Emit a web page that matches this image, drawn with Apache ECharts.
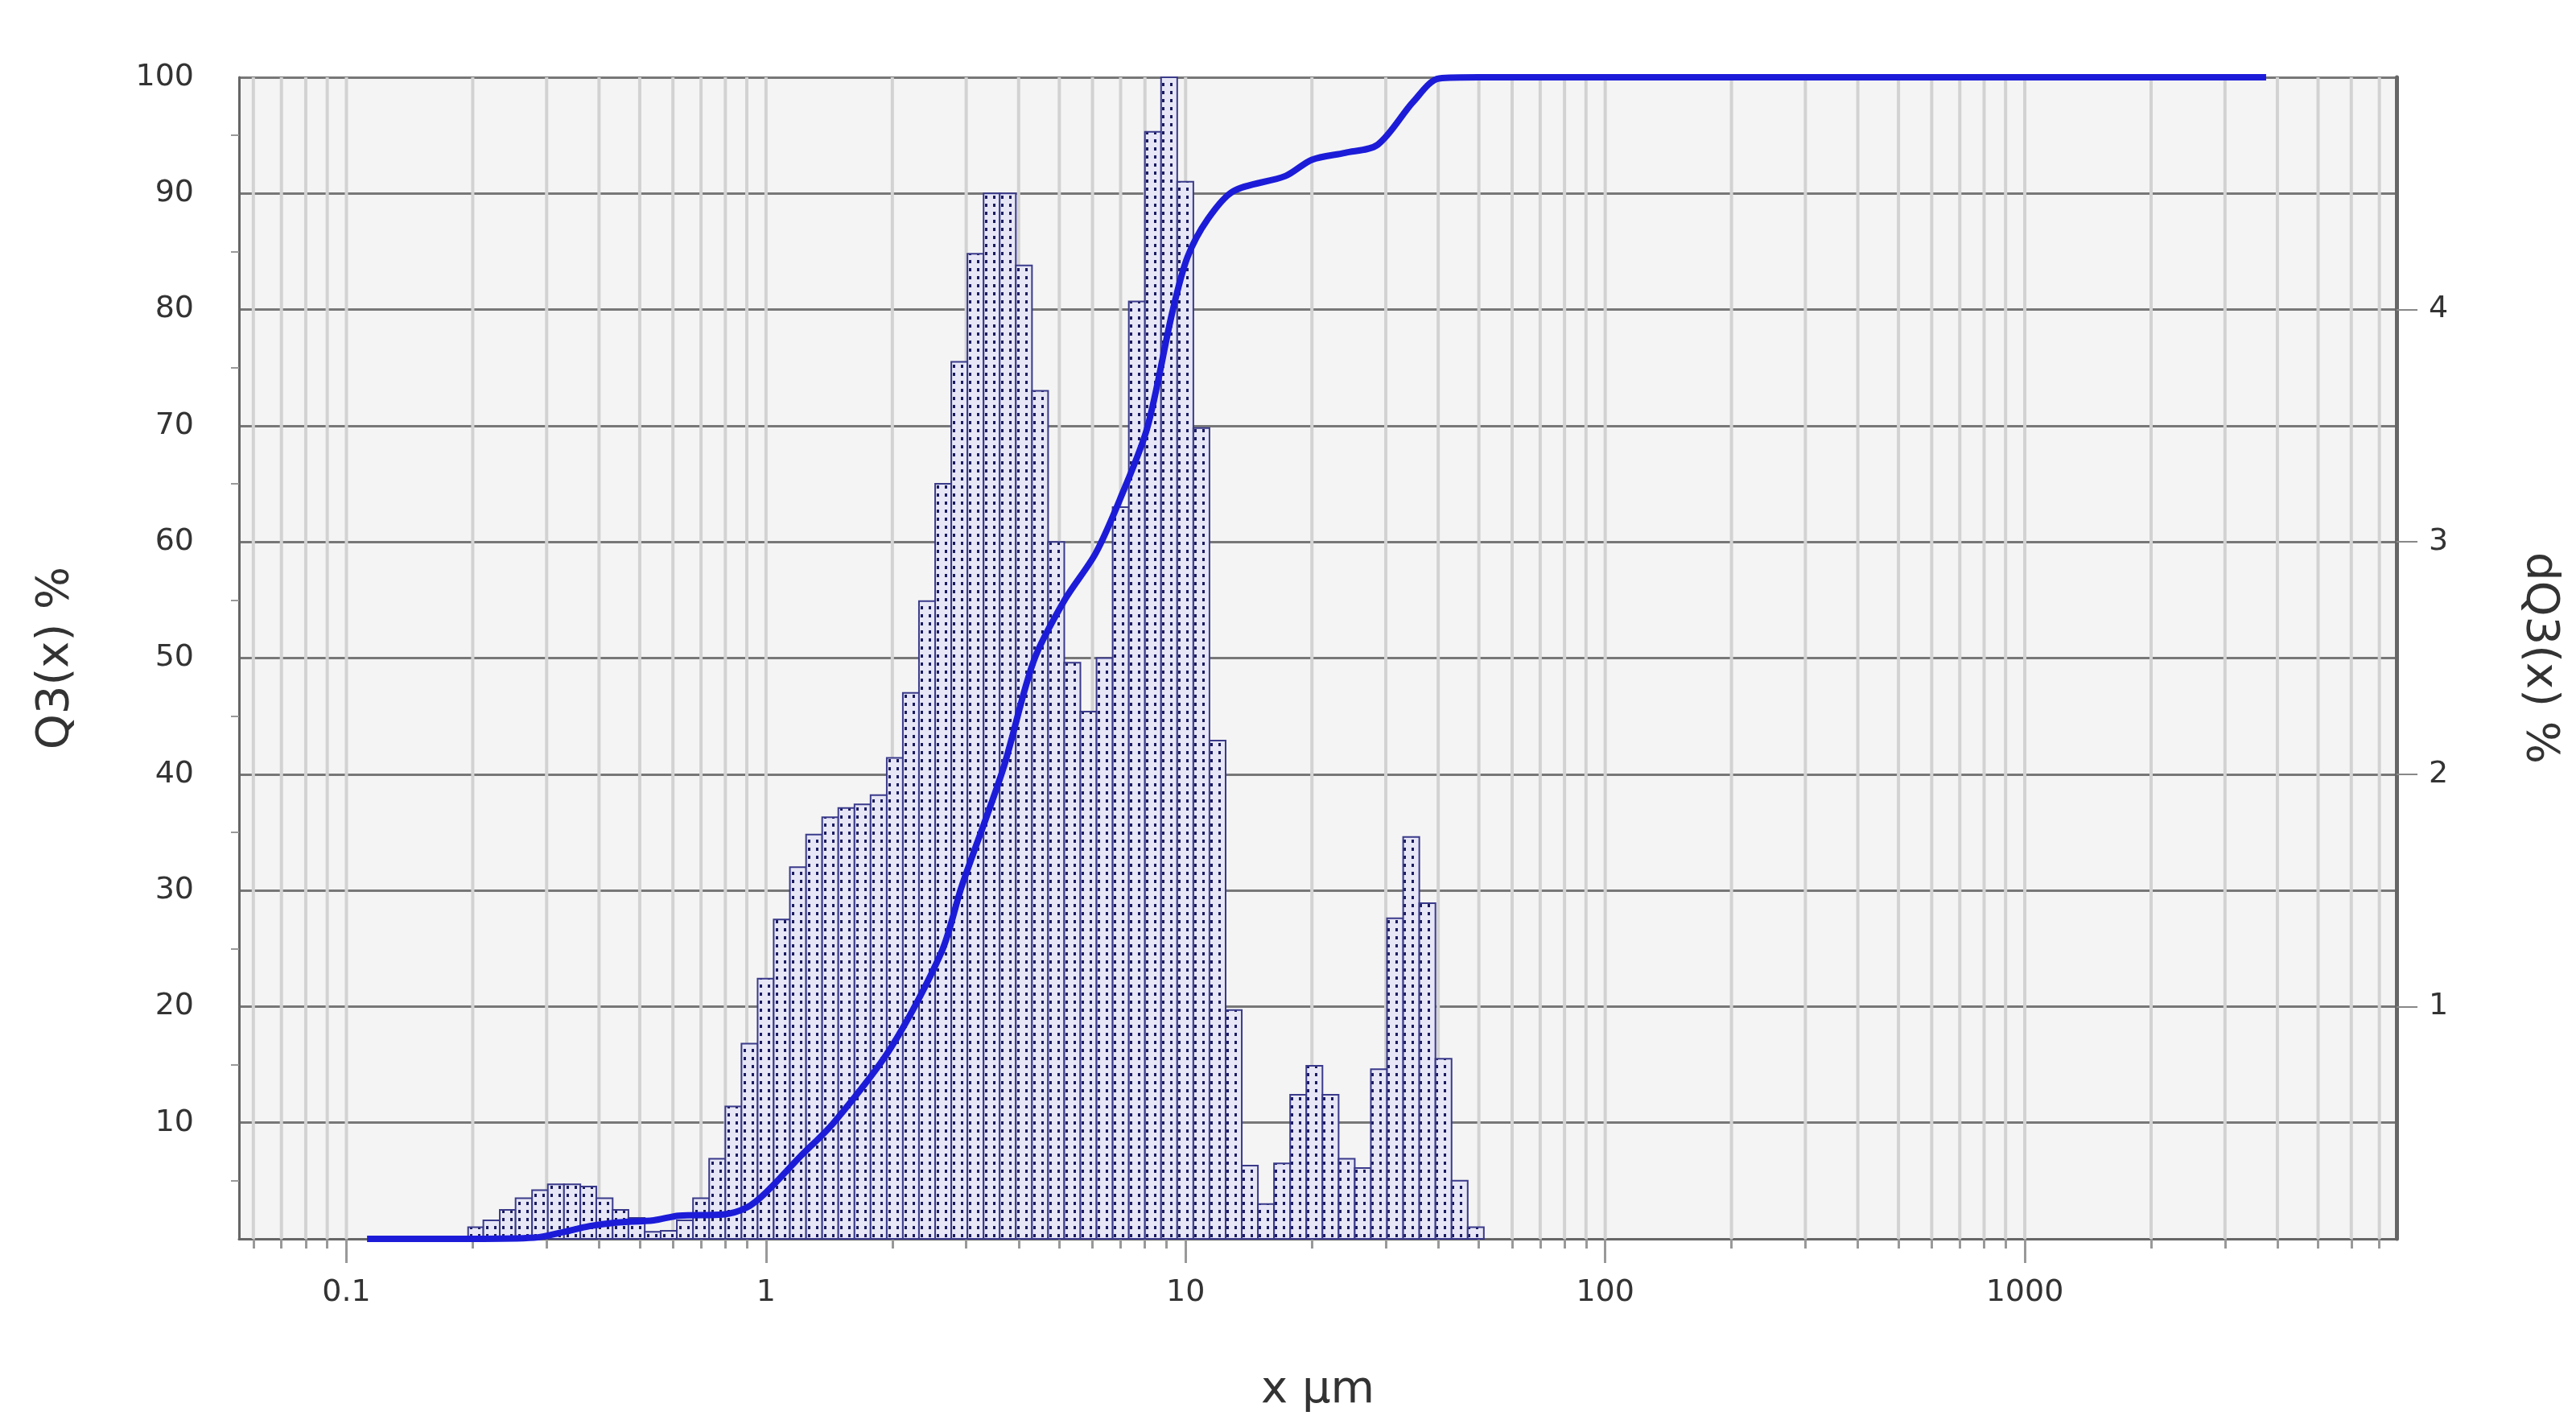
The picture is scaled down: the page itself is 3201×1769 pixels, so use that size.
<!DOCTYPE html>
<html><head><meta charset="utf-8">
<script src="https://cdn.jsdelivr.net/npm/echarts@6/dist/echarts.min.js"></script>
<style>html,body{margin:0;padding:0;background:#fff}#c{width:3201px;height:1769px}</style>
</head><body><div id="c"></div>
<script>
// histogram bin edges (µm) and density dQ3(x) % per bin
const binEdges = [0.195,0.212,0.232,0.253,0.277,0.302,0.330,0.361,0.394,0.431,0.470,0.514,0.561,0.613,0.670,0.732,0.800,0.874,
0.955,1.043,1.140,1.246,1.361,1.487,1.625,1.775,1.940,2.119,2.315,2.530,2.764,3.020,3.300,3.605,3.939,4.304,4.702,5.138,5.613,6.133,6.701,7.322,8.000,8.741,
9.550,10.434,11.400,12.456,13.610,14.870,16.247,17.752,19.395,21.191,23.154,25.298,27.641,30.200,32.997,36.053,39.391,43.039,47.024,51.377];
const dQ3 = [0.05,0.08,0.125,0.175,0.21,0.235,0.235,0.225,0.175,0.125,0.09,0.03,0.035,0.08,0.175,0.345,0.57,0.84,
1.12,1.375,1.6,1.74,1.815,1.855,1.87,1.91,2.07,2.35,2.745,3.25,3.775,4.24,4.5,4.5,4.19,3.65,3.0,2.48,2.27,2.5,3.15,4.035,4.765,5.0,
4.55,3.49,2.145,0.985,0.315,0.15,0.325,0.62,0.745,0.62,0.345,0.305,0.73,1.38,1.73,1.445,0.775,0.25,0.05];
// cumulative Q3(x) %
const q3X = [0.112,0.2,0.28,0.33,0.38,0.44,0.54,0.62,0.79,0.9,1.0,1.2,1.45,1.98,2.62,2.93,3.67,4.35,5.15,6.1,7.0,8.1,9.3,10.1,11.3,13,17.3,20,24,28.7,34.9,40.2,50,3760];
const q3Y = [0,0,0.1,0.6,1.1,1.4,1.6,2.0,2.1,2.7,4.0,7,10,16.4,24.7,30.4,40.4,49.8,55,59,63.8,69.8,79.8,84.5,87.8,90.2,91.5,92.9,93.5,94.2,97.9,99.9,100,100];
const xLabels = ['0.1','1','10','100','1000'];
const xLabelVals = [0.1,1,10,100,1000];

const L = Math.log10;
const xMin = -1.256, xMax = 3.886;
const gridVals = [];
for (let d = -2; d <= 3; d++) for (let m = 1; m <= 9; m++) { const v = L(m) + d; if (v > xMin && v < xMax) gridVals.push(v); }
const majorVals = xLabelVals.map(L);

const cv = document.createElement('canvas'); cv.width = 10; cv.height = 10;
const cx = cv.getContext('2d'); cx.fillStyle = '#e6e6f6'; cx.fillRect(0,0,10,10);
cx.fillStyle = '#1a1a60'; cx.fillRect(4,3,3,4);

const bins = dQ3.map((v,i)=>[L(binEdges[i]), L(binEdges[i+1]), v]);
const font = 'DejaVu Sans';
const chart = echarts.init(document.getElementById('c'));
chart.setOption({
  animation:false,
  grid:{left:297,right:223,top:96,bottom:230,show:true,backgroundColor:'#f4f4f4',borderWidth:0},
  xAxis:[{type:'value',min:xMin,max:xMax,name:'x µm',nameLocation:'middle',nameGap:160,
    nameTextStyle:{fontFamily:font,fontSize:56,color:'#333'},
    axisLine:{onZero:false,lineStyle:{color:'#666',width:3}},splitLine:{show:false},
    axisTick:{customValues:gridVals,length:12,lineStyle:{color:'#999',width:3}},
    axisLabel:{customValues:majorVals,margin:48,fontFamily:font,fontSize:38,color:'#333',
      formatter:v=>{const i=majorVals.findIndex(m=>Math.abs(m-v)<1e-6);return i>=0?xLabels[i]:'';}}},
   {type:'value',min:xMin,max:xMax,position:'bottom',axisLine:{show:false,onZero:false},splitLine:{show:false},
    axisTick:{customValues:majorVals,length:30,lineStyle:{color:'#999',width:3}},axisLabel:{show:false}}],
  yAxis:[{type:'value',min:0,max:100,interval:10,name:'Q3(x) %',nameLocation:'middle',nameGap:200,
    nameTextStyle:{fontFamily:font,fontSize:56,color:'#333'},
    axisLine:{show:true,onZero:false,lineStyle:{color:'#666',width:3}},
    axisTick:{show:false},minorTick:{show:true,splitNumber:2,length:10,lineStyle:{color:'#999',width:2}},
    axisLabel:{margin:56,fontFamily:font,fontSize:38,color:'#333',formatter:v=>v===0?'':String(v)},
    splitLine:{lineStyle:{color:'#777',width:3}}},
   {type:'value',min:0,max:5,position:'right',name:'dQ3(x) %',nameLocation:'middle',nameGap:150,nameRotate:-90,
    nameTextStyle:{fontFamily:font,fontSize:56,color:'#333'},
    axisLine:{show:true,onZero:false,lineStyle:{color:'#666',width:5}},
    axisTick:{customValues:[1,2,3,4],length:26,lineStyle:{color:'#888',width:2}},
    axisLabel:{customValues:[1,2,3,4],margin:40,fontFamily:font,fontSize:38,color:'#333'},
    splitLine:{show:false}}],
  series:[
   {type:'custom',xAxisIndex:0,yAxisIndex:0,silent:true,z:1,data:gridVals.map(v=>[v]),
    renderItem:(p,api)=>{const a=api.coord([api.value(0),0]),b=api.coord([api.value(0),100]);
      return {type:'line',shape:{x1:a[0],y1:a[1],x2:b[0],y2:b[1]},style:{stroke:'#d2d2d2',lineWidth:4}};}},
   {type:'custom',xAxisIndex:0,yAxisIndex:1,z:3,data:bins,
    renderItem:(p,api)=>{const a=api.coord([api.value(0),api.value(2)]),b=api.coord([api.value(1),0]);
      return {type:'rect',shape:{x:a[0],y:a[1],width:b[0]-a[0],height:b[1]-a[1]},
        style:{fill:{image:cv,repeat:'repeat'},stroke:'#3a3a8a',lineWidth:2}};}},
   {type:'line',xAxisIndex:0,yAxisIndex:0,z:5,smooth:0.3,symbol:'none',
    data:q3X.map((x,i)=>[L(x),q3Y[i]]),lineStyle:{color:'#1c1cd8',width:8}}
  ]
});
</script></body></html>
